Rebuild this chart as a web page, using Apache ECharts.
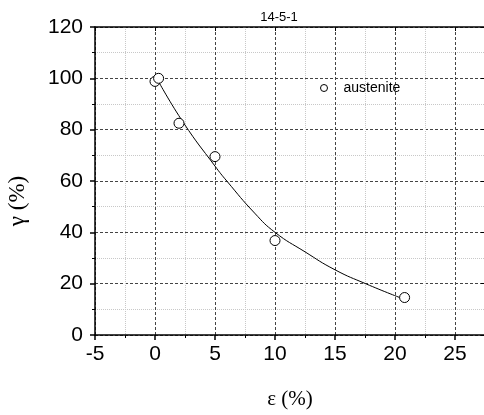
<!DOCTYPE html>
<html>
<head>
<meta charset="utf-8">
<script src="https://cdn.jsdelivr.net/npm/echarts@6/dist/echarts.min.js"></script>
<style>
  html, body { margin: 0; padding: 0; background: #fff; }
  #chart { width: 484px; height: 415px; }
</style>
</head>
<body>
<div id="chart"></div>
<script>
// measured points (strain %, austenite %)
const strain = [0, 0.3, 2, 5, 10, 20.8]
const austenite = [98.8, 100, 82.5, 69.5, 36.8, 14.6]

// fitted curve
const fitX = [0.3, 2.4, 5, 6, 8.3, 10, 12.5, 15, 17.6, 20.5]
const fitY = [98.7, 82.5, 65.8, 59.9, 47.5, 40.0, 32.4, 25.4, 19.9, 14.4]

const chartTitle = '14-5-1'
const xName = 'ε (%)'
const yName = 'γ (%)'
const seriesName = 'austenite'

const font = 'Liberation Sans'

const chart = echarts.init(document.getElementById('chart'))

const pts = strain.map((x, i) => [x, austenite[i]])
const fit = fitX.map((x, i) => [x, fitY[i]])

const axisLine = { show: true, onZero: false, lineStyle: { color: '#000', width: 1.5 } }

chart.setOption({
  animation: false,
  title: {
    text: chartTitle,
    left: 274,
    top: 6,
    textAlign: 'center',
    textStyle: { fontFamily: font, fontSize: 13, fontWeight: 'normal', color: '#000' }
  },
  legend: {
    data: [seriesName],
    left: 315,
    top: 76,
    itemWidth: 7,
    itemHeight: 7,
    itemStyle: { borderWidth: 1 },
    textStyle: { fontFamily: font, fontSize: 14, color: '#000', padding: [0, 0, 0, 11] }
  },
  grid: { left: 95, top: 27, width: 390, height: 308, outerBoundsMode: 'none', containLabel: false },
  xAxis: [
    {
      type: 'value',
      min: -5,
      max: 27.5,
      interval: 5,
      name: xName,
      nameLocation: 'middle',
      nameGap: 54,
      nameTextStyle: { fontFamily: 'Liberation Serif', fontSize: 21, color: '#000' },
      axisLine: axisLine,
      axisTick: { show: true, length: 5, lineStyle: { color: '#000', width: 1.5 } },
      minorTick: { show: true, splitNumber: 2, length: 3, lineStyle: { color: '#000', width: 1 } },
      axisLabel: { fontFamily: font, fontSize: 21, color: '#000', margin: 9, showMaxLabel: false },
      splitLine: { show: true, lineStyle: { color: '#444', type: [3, 2], width: 1 } },
      minorSplitLine: { show: true, lineStyle: { color: '#c8c8c8', type: [1, 1], width: 1 } }
    },
    {
      type: 'value',
      position: 'top',
      min: -5,
      max: 27.5,
      interval: 5,
      axisLine: axisLine,
      axisTick: { show: true, inside: true, length: 4, lineStyle: { color: '#000' } },
      axisLabel: { show: false },
      splitLine: { show: false }
    }
  ],
  yAxis: [
    {
      type: 'value',
      min: 0,
      max: 120,
      interval: 20,
      name: yName,
      nameLocation: 'middle',
      nameGap: 66,
      nameTextStyle: { fontFamily: 'Liberation Serif', fontSize: 23, color: '#000', padding: [0, 40, 0, 0] },
      axisLine: axisLine,
      axisTick: { show: true, length: 5, lineStyle: { color: '#000', width: 1.5 } },
      minorTick: { show: true, splitNumber: 2, length: 3, lineStyle: { color: '#000', width: 1 } },
      axisLabel: { fontFamily: font, fontSize: 21, color: '#000', margin: 12 },
      splitLine: { show: true, lineStyle: { color: '#444', type: [3, 2], width: 1 } },
      minorSplitLine: { show: true, lineStyle: { color: '#c8c8c8', type: [1, 1], width: 1 } }
    },
    {
      type: 'value',
      position: 'right',
      min: 0,
      max: 120,
      interval: 20,
      axisLine: axisLine,
      axisTick: { show: true, inside: true, length: 4, lineStyle: { color: '#000' } },
      axisLabel: { show: false },
      splitLine: { show: false }
    }
  ],
  series: [
    {
      name: 'fit',
      type: 'line',
      data: fit,
      smooth: 0.5,
      showSymbol: false,
      symbol: 'none',
      lineStyle: { color: '#000', width: 1 },
      z: 3
    },
    {
      name: seriesName,
      type: 'scatter',
      data: pts,
      symbol: 'circle',
      symbolSize: 10,
      itemStyle: { color: '#fff', borderColor: '#000', borderWidth: 1, opacity: 1 },
      z: 4
    }
  ]
})
</script>
</body>
</html>
